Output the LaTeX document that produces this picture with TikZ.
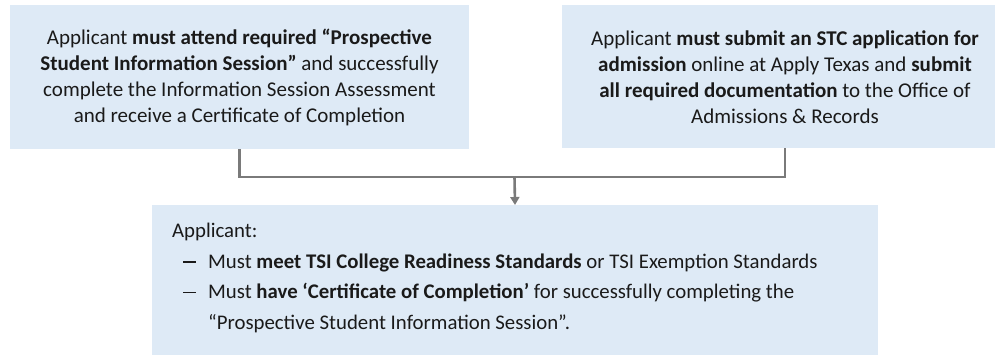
\documentclass[tikz,border=0pt]{standalone}
\usepackage{fontspec}
\setmainfont{Carlito}
\usetikzlibrary{arrows.meta}
\definecolor{boxfill}{HTML}{DEEAF6}
\definecolor{conn}{HTML}{7A7A7A}
\definecolor{ink}{HTML}{1A1A1A}
\newcommand{\listdash}{\makebox[25pt][l]{\rule[5.6pt]{13pt}{1.1pt}}}
\begin{document}
\begin{tikzpicture}[x=1pt,y=-1pt,
  box/.style={fill=boxfill, draw=none, inner sep=0pt, outer sep=0pt},
  txt/.style={font=\fontsize{21}{26}\selectfont, align=center, inner sep=0pt, text=ink},
  btxt/.style={font=\fontsize{20.8}{30.5}\selectfont, align=left, inner sep=0pt, text=ink},
  link/.style={draw=conn, line width=2.6pt},
  tip/.style={-{Triangle[width=9pt,length=8pt]}}
  ]
\useasboundingbox (0,0) rectangle (995,356);
% top left
\node[box, minimum width=459pt, minimum height=144pt] (lbox) at (239.5,77) {};
\node[txt] (ltext) at (lbox.center) {Applicant \textbf{must attend required “Prospective}\\
\textbf{Student Information Session”} and successfully\\
complete the Information Session Assessment\\
and receive a Certificate of Completion};
% top right
\node[box, minimum width=433pt, minimum height=143pt] (rbox) at (778.5,76.5) {};
\node[txt] (rtext) at (785,77.5) {Applicant \textbf{must submit an STC application for}\\
\textbf{admission} online at Apply Texas and \textbf{submit}\\
\textbf{all required documentation} to the Office of\\
Admissions \& Records};
% bottom
\node[box, minimum width=726pt, minimum height=150pt] (bbox) at (515,280) {};
\node[btxt, anchor=north west] (btext) at (172,223) {Applicant:\\
\hspace*{11pt}\listdash Must \textbf{meet TSI College Readiness Standards} or TSI Exemption Standards\\
\hspace*{11pt}\listdash Must \textbf{have ‘Certificate of Completion’} for successfully completing the\\
\hspace*{36pt}“Prospective Student Information Session”.};
% connectors
\coordinate (join) at (514.5,177);
\coordinate (rout) at (rtext.center |- rbox.south);
\draw[link] (lbox.south) |- (join);
\draw[link] (rout) |- (join);
\draw[link, tip] (join) -- (bbox.north);
\end{tikzpicture}
\end{document}
